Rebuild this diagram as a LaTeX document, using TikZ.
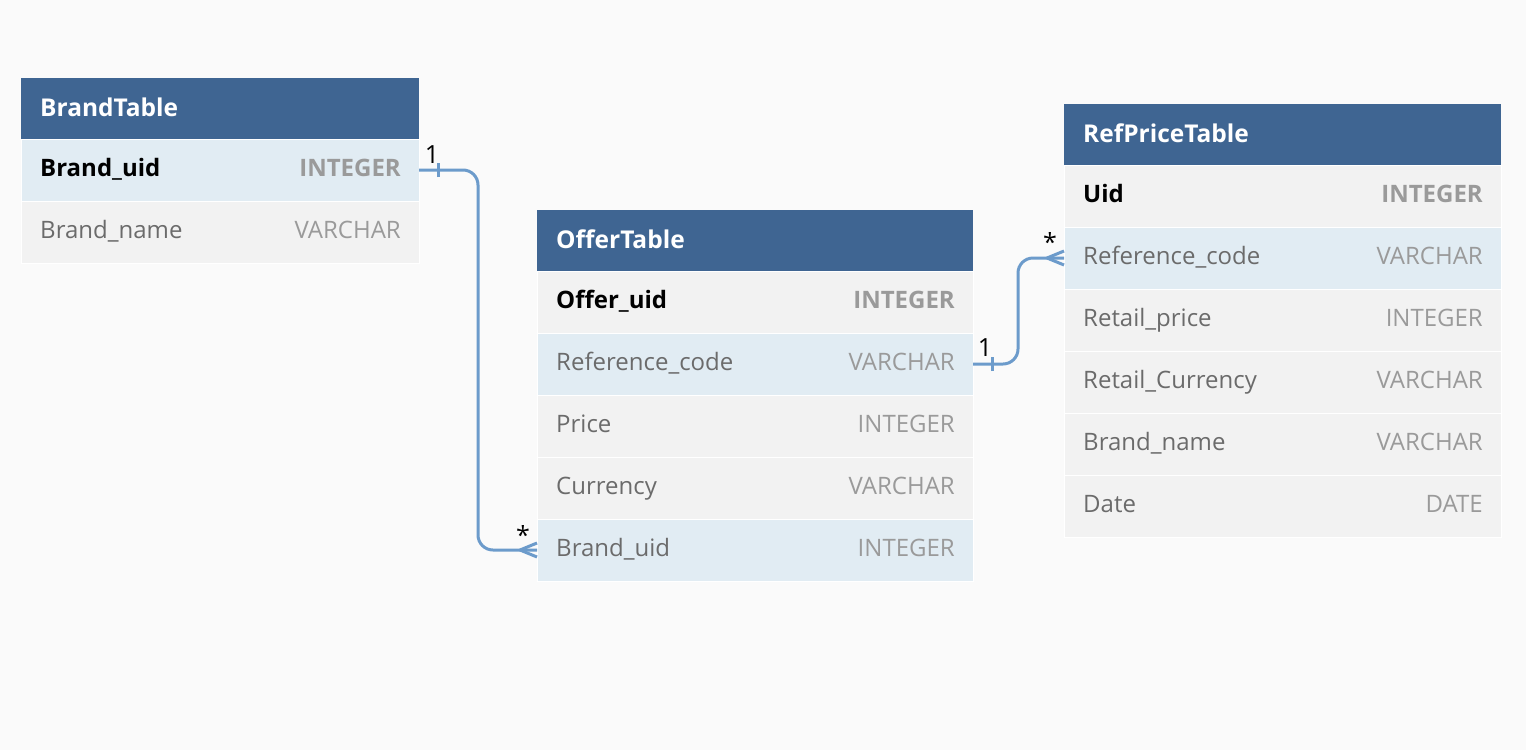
\documentclass[tikz,border=0pt]{standalone}
\usepackage{fontspec}
\setmainfont{Open Sans}
\usepackage{tikz}
\usetikzlibrary{positioning,calc}
\definecolor{bgc}{HTML}{FAFAFA}
\definecolor{hdrc}{HTML}{3F6592}
\definecolor{keyc}{HTML}{E1ECF3}
\definecolor{rowc}{HTML}{F2F2F2}
\definecolor{linec}{HTML}{6C9BCB}
\definecolor{namec}{HTML}{6B6B6B}
\definecolor{typec}{HTML}{9A9A9A}
\tikzset{
  hd/.style={rectangle,fill=hdrc,inner sep=0pt,outer sep=0pt,minimum height=61pt,anchor=north west},
  gr/.style={rectangle,fill=rowc,draw=white,line width=0.6pt,inner sep=0pt,outer sep=0pt,minimum height=62pt},
  bl/.style={rectangle,fill=keyc,draw=white,line width=0.6pt,inner sep=0pt,outer sep=0pt,minimum height=62pt},
  ttl/.style={anchor=west,inner sep=0pt,text=white,font=\fontsize{24.5}{28}\selectfont\bfseries},
  fld/.style={inner sep=0pt,text height=17.5pt,text depth=2pt,font=\fontsize{24}{28}\selectfont},
  fk/.style={fld,anchor=west,text=black,font=\fontsize{24}{28}\selectfont\bfseries},
  fn/.style={fld,anchor=west,text=namec},
  tk/.style={fld,anchor=east,text=typec,font=\fontsize{24}{28}\selectfont\bfseries},
  tn/.style={fld,anchor=east,text=typec},
  rel/.style={draw=linec,line width=3pt},
  card/.style={inner sep=0pt,font=\fontsize{25}{28}\selectfont},
}
\begin{document}
\begin{tikzpicture}[x=1pt,y=-1pt,node distance=0pt]
  \fill[bgc] (0,0) rectangle (1526,750);
  \useasboundingbox (0,0) rectangle (1526,750);
  % BrandTable
  \node[hd,minimum width=398pt] (bh) at (21,78) {};
  \node[ttl] (bht) at ([xshift=19pt,yshift=1pt]bh.west) {BrandTable};
  \node[bl,minimum width=398pt,below=of bh] (b1) {};
  \node[fk] (b1n) at ([xshift=19pt,yshift=1pt]b1.west) {Brand\_uid};
  \node[tk] (b1t) at ([xshift=-18pt,yshift=1pt]b1.east) {INTEGER};
  \node[gr,minimum width=398pt,below=of b1] (b2) {};
  \node[fn] (b2n) at ([xshift=19pt,yshift=1pt]b2.west) {Brand\_name};
  \node[tn] (b2t) at ([xshift=-18pt,yshift=1pt]b2.east) {VARCHAR};
  % OfferTable
  \node[hd,minimum width=436pt] (oh) at (537,210) {};
  \node[ttl] (oht) at ([xshift=19pt,yshift=1pt]oh.west) {OfferTable};
  \node[gr,minimum width=436pt,below=of oh] (o1) {};
  \node[fk] (o1n) at ([xshift=19pt,yshift=1pt]o1.west) {Offer\_uid};
  \node[tk] (o1t) at ([xshift=-18pt,yshift=1pt]o1.east) {INTEGER};
  \node[bl,minimum width=436pt,below=of o1] (o2) {};
  \node[fn] (o2n) at ([xshift=19pt,yshift=1pt]o2.west) {Reference\_code};
  \node[tn] (o2t) at ([xshift=-18pt,yshift=1pt]o2.east) {VARCHAR};
  \node[gr,minimum width=436pt,below=of o2] (o3) {};
  \node[fn] (o3n) at ([xshift=19pt,yshift=1pt]o3.west) {Price};
  \node[tn] (o3t) at ([xshift=-18pt,yshift=1pt]o3.east) {INTEGER};
  \node[gr,minimum width=436pt,below=of o3] (o4) {};
  \node[fn] (o4n) at ([xshift=19pt,yshift=1pt]o4.west) {Currency};
  \node[tn] (o4t) at ([xshift=-18pt,yshift=1pt]o4.east) {VARCHAR};
  \node[bl,minimum width=436pt,below=of o4] (o5) {};
  \node[fn] (o5n) at ([xshift=19pt,yshift=1pt]o5.west) {Brand\_uid};
  \node[tn] (o5t) at ([xshift=-18pt,yshift=1pt]o5.east) {INTEGER};
  % RefPriceTable
  \node[hd,minimum width=437pt] (rh) at (1064,104) {};
  \node[ttl] (rht) at ([xshift=19pt,yshift=1pt]rh.west) {RefPriceTable};
  \node[gr,minimum width=437pt,below=of rh] (r1) {};
  \node[fk] (r1n) at ([xshift=19pt,yshift=1pt]r1.west) {Uid};
  \node[tk] (r1t) at ([xshift=-18pt,yshift=1pt]r1.east) {INTEGER};
  \node[bl,minimum width=437pt,below=of r1] (r2) {};
  \node[fn] (r2n) at ([xshift=19pt,yshift=1pt]r2.west) {Reference\_code};
  \node[tn] (r2t) at ([xshift=-18pt,yshift=1pt]r2.east) {VARCHAR};
  \node[gr,minimum width=437pt,below=of r2] (r3) {};
  \node[fn] (r3n) at ([xshift=19pt,yshift=1pt]r3.west) {Retail\_price};
  \node[tn] (r3t) at ([xshift=-18pt,yshift=1pt]r3.east) {INTEGER};
  \node[gr,minimum width=437pt,below=of r3] (r4) {};
  \node[fn] (r4n) at ([xshift=19pt,yshift=1pt]r4.west) {Retail\_Currency};
  \node[tn] (r4t) at ([xshift=-18pt,yshift=1pt]r4.east) {VARCHAR};
  \node[gr,minimum width=437pt,below=of r4] (r5) {};
  \node[fn] (r5n) at ([xshift=19pt,yshift=1pt]r5.west) {Brand\_name};
  \node[tn] (r5t) at ([xshift=-18pt,yshift=1pt]r5.east) {VARCHAR};
  \node[gr,minimum width=437pt,below=of r5] (r6) {};
  \node[fn] (r6n) at ([xshift=19pt,yshift=1pt]r6.west) {Date};
  \node[tn] (r6t) at ([xshift=-18pt,yshift=1pt]r6.east) {DATE};
  % Brand_uid 1 -- * Brand_uid
  \draw[rel,rounded corners=15pt] (b1.east) -- ++(59,0) |- (o5.west);
  \draw[rel] ([xshift=19pt,yshift=-7pt]b1.east) -- ([xshift=19pt,yshift=7pt]b1.east);
  \draw[rel] ([xshift=-17pt]o5.west) -- ([yshift=7pt]o5.west);
  \draw[rel] ([xshift=-17pt]o5.west) -- ([yshift=-7pt]o5.west);
  \node[card] (c1) at ([xshift=13pt,yshift=15pt]b1.east) {1};
  \node[card] (c2) at ([xshift=-14pt,yshift=15pt]o5.west) {*};
  % Reference_code 1 -- * Reference_code
  \draw[rel,rounded corners=15pt] (o2.east) -- ++(45,0) |- (r2.west);
  \draw[rel] ([xshift=19pt,yshift=-7pt]o2.east) -- ([xshift=19pt,yshift=7pt]o2.east);
  \draw[rel] ([xshift=-17pt]r2.west) -- ([yshift=7pt]r2.west);
  \draw[rel] ([xshift=-17pt]r2.west) -- ([yshift=-7pt]r2.west);
  \node[card] (c3) at ([xshift=12pt,yshift=16pt]o2.east) {1};
  \node[card] (c4) at ([xshift=-14pt,yshift=16pt]r2.west) {*};
\end{tikzpicture}
\end{document}
